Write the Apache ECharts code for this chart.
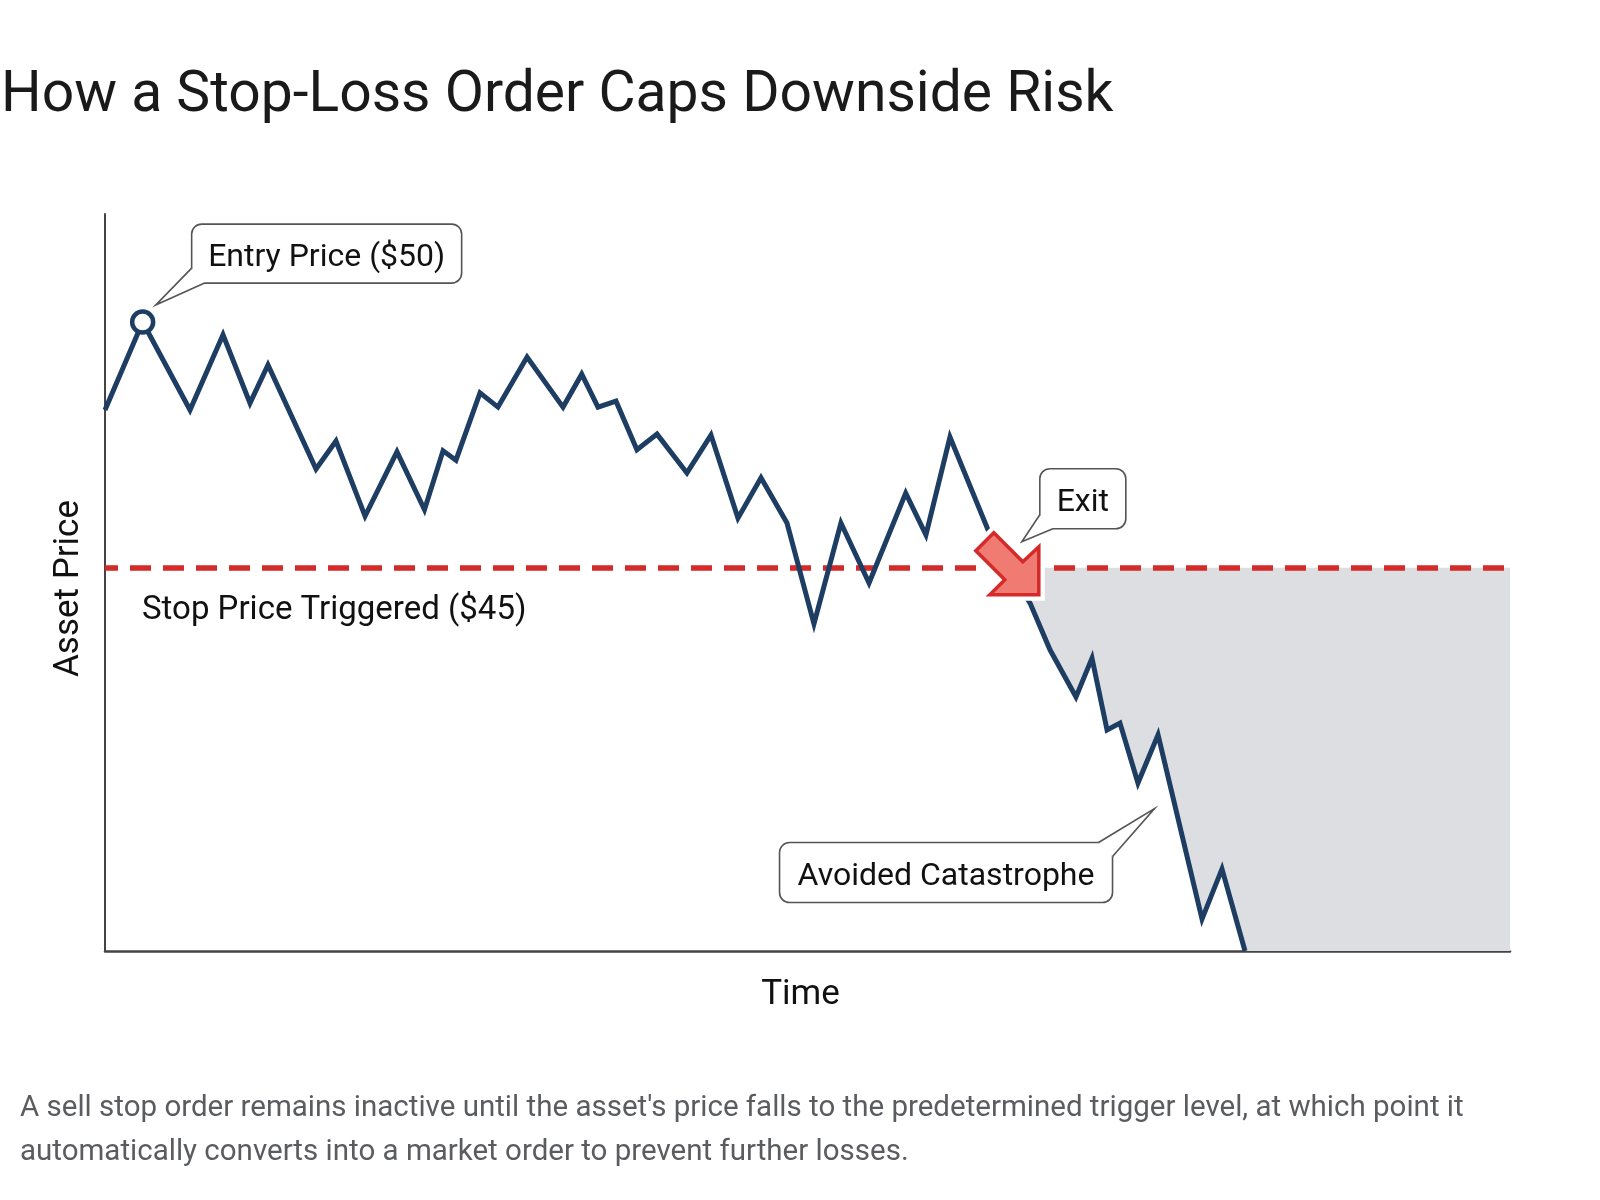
<!DOCTYPE html>
<html>
<head>
<meta charset="utf-8">
<title>How a Stop-Loss Order Caps Downside Risk</title>
<script src="https://cdn.jsdelivr.net/npm/echarts@6/dist/echarts.min.js"></script>
<style>
  html, body { margin: 0; padding: 0; background: #fff; }
  #chart { width: 1600px; height: 1200px; }
</style>
</head>
<body>
<div id="chart"></div>
<script>
// price path (time is in arbitrary units 0..100, price in $)
const timeSteps = [0, 2.68, 6.05, 8.40, 10.32, 11.60, 15.02, 16.44, 18.51, 20.78, 22.74, 24.06, 24.98, 26.69, 27.97, 30.04,
  32.60, 33.93, 35.09, 36.37, 37.86, 39.29, 41.42, 43.13, 45.05, 46.69, 48.54, 50.46, 52.38, 54.38, 56.99, 58.43, 60.14,
  62.85, 65.84, 67.26, 69.11, 70.25, 71.32, 72.24, 73.52, 74.95, 78.08, 79.50, 81.14];
const prices = [48.21, 50.0, 48.21, 49.74, 48.35, 49.13, 47.01, 47.58, 46.05, 47.36, 46.18, 47.38, 47.19, 48.56, 48.27, 49.29,
  48.27, 48.94, 48.27, 48.39, 47.40, 47.72, 46.93, 47.70, 46.01, 46.83, 45.91, 43.86, 45.91, 44.69, 46.52, 45.67, 47.66,
  45.77, 44.28, 43.33, 42.37, 43.16, 41.70, 41.84, 40.62, 41.60, 37.85, 38.87, 37.2];

const entryPoint = [2.68, 50];
const stopPrice = 45;
const exitPoint = [64.4, 45];
const avoidedPoint = [74.7, 40.1];
const timeRange = [0, 100];
const priceRange = [37.2, 52.2];

const calloutLabels = ['Entry Price ($50)', 'Exit', 'Avoided Catastrophe'];
const stopLabel = 'Stop Price Triggered ($45)';
const titleText = 'How a Stop-Loss Order Caps Downside Risk';
const captionText = "A sell stop order remains inactive until the asset's price falls to the predetermined trigger level, at which point it\nautomatically converts into a market order to prevent further losses.";

const NAVY = '#1e3d63';
const RED = '#d42a2a';
const FONT = 'Roboto, "Noto Sans", sans-serif';

let pricePath = timeSteps.map((t, i) => [t, prices[i]]);

// bubble shapes, offsets in px from the pointer tip
const bubbleLayout = [
  { tip: [13, -17], box: [36, -81, 270, 59], base: [[36, -37], [49, -22]] },
  { tip: [12, -26], box: [18, -73, 86, 60], base: [[18, -27], [31, -13]] },
  { tip: [0, 0], box: [-375, 34, 333, 60], base: [[-56, 34], [-42, 48]] }
];

let chart = echarts.init(document.getElementById('chart'));

let option = {
  backgroundColor: '#fff',
  animation: false,
  grid: { left: 105, right: 90, top: 214, bottom: 249, outerBoundsMode: 'none' },
  xAxis: {
    type: 'value',
    min: timeRange[0],
    max: timeRange[1],
    name: 'Time',
    nameLocation: 'middle',
    nameGap: 27,
    nameTextStyle: { fontSize: 35, color: '#111', fontFamily: FONT, padding: [0, 14, 0, 0] },
    axisLine: { show: true, onZero: false, lineStyle: { color: '#444', width: 2.5 } },
    axisTick: { show: false },
    axisLabel: { show: false },
    splitLine: { show: false }
  },
  yAxis: {
    type: 'value',
    min: priceRange[0],
    max: priceRange[1],
    name: 'Asset Price',
    nameLocation: 'middle',
    nameRotate: 90,
    nameGap: 18,
    nameTextStyle: { fontSize: 35, color: '#111', fontFamily: FONT, padding: [0, 12, 0, 0] },
    axisLine: { show: true, onZero: false, lineStyle: { color: '#444', width: 2 } },
    axisTick: { show: false },
    axisLabel: { show: false },
    splitLine: { show: false }
  },
  graphic: [
    {
      type: 'text', z: 100,
      style: { text: titleText, x: 1, y: 97, verticalAlign: 'middle', align: 'left',
        font: '57px ' + FONT, fill: '#1a1a1a' }
    },
    {
      type: 'text', z: 100,
      style: { text: captionText, x: 20, y: 1087, verticalAlign: 'top', align: 'left',
        font: '29.5px ' + FONT, lineHeight: 44, fill: '#5a5c60' }
    }
  ],
  series: [
    {
      // grey region: losses avoided below the stop
      type: 'custom',
      name: 'avoided',
      silent: true,
      z: 1,
      data: [exitPoint],
      renderItem: function (params, api) {
        let after = pricePath.filter(p => p[0] > exitPoint[0]);
        let pts = [exitPoint].concat(after, [[timeRange[1], priceRange[0]], [timeRange[1], stopPrice]]);
        return {
          type: 'polygon',
          shape: { points: pts.map(p => api.coord(p)) },
          style: { fill: '#dddee1' }
        };
      }
    },
    {
      type: 'line',
      name: 'price',
      data: pricePath,
      showSymbol: false,
      silent: true,
      z: 3,
      lineStyle: { color: NAVY, width: 5, join: 'miter', miterLimit: 10 },
      markLine: {
        silent: true,
        symbol: ['none', 'none'],
        z: 2,
        label: { show: false },
        lineStyle: { color: RED, width: 5.5, type: [21, 12], dashOffset: 8 },
        data: [{ yAxis: stopPrice }]
      }
    },
    {
      type: 'scatter',
      name: 'entry',
      data: [entryPoint],
      symbol: 'circle',
      symbolSize: 21,
      silent: true,
      z: 4,
      itemStyle: { color: '#fff', borderColor: NAVY, borderWidth: 4.5, opacity: 1 }
    },
    {
      // exit arrow
      type: 'custom',
      name: 'exit',
      silent: true,
      z: 5,
      clip: false,
      data: [exitPoint],
      renderItem: function (params, api) {
        let a = api.coord([api.value(0), api.value(1)]);
        let tx = a[0] + 29, ty = a[1] + 27;
        let rel = [[0, 0], [0, -48], [-16, -33], [-45, -62], [-63, -44], [-34, -15], [-49, 0]];
        let pts = rel.map(r => [tx + r[0], ty + r[1]]);
        return {
          type: 'group',
          children: [
            { type: 'polygon', shape: { points: pts }, style: { fill: '#fff', stroke: '#fff', lineWidth: 12, lineJoin: 'miter' } },
            { type: 'polygon', shape: { points: pts }, style: { fill: '#ef7b72', stroke: RED, lineWidth: 3.5, lineJoin: 'miter' } }
          ]
        };
      }
    },
    {
      // callout bubbles
      type: 'custom',
      name: 'callouts',
      silent: true,
      z: 6,
      clip: false,
      data: [entryPoint, exitPoint, avoidedPoint],
      renderItem: function (params, api) {
        let i = params.dataIndex;
        let lay = bubbleLayout[i];
        let a = api.coord([api.value(0), api.value(1)]);
        let tip = [a[0] + lay.tip[0], a[1] + lay.tip[1]];
        let b = lay.box;
        let p1 = [tip[0] + lay.base[0][0], tip[1] + lay.base[0][1]];
        let p2 = [tip[0] + lay.base[1][0], tip[1] + lay.base[1][1]];
        let stroke = '#555';
        return {
          type: 'group',
          children: [
            { type: 'rect', shape: { x: tip[0] + b[0], y: tip[1] + b[1], width: b[2], height: b[3], r: 10 },
              style: { fill: '#fff', stroke: stroke, lineWidth: 1.6 } },
            { type: 'polygon', shape: { points: [p1, tip, p2] }, style: { fill: '#fff' } },
            { type: 'polyline', shape: { points: [p1, tip, p2] }, style: { fill: null, stroke: stroke, lineWidth: 1.6 } },
            { type: 'text', style: { text: calloutLabels[i], x: tip[0] + b[0] + b[2] / 2, y: tip[1] + b[1] + b[3] / 2 + 4,
              align: 'center', verticalAlign: 'middle', font: '32px ' + FONT, fill: '#111' } }
          ]
        };
      }
    },
    {
      // label under the stop line
      type: 'custom',
      name: 'stopLabel',
      silent: true,
      z: 6,
      clip: false,
      data: [[timeRange[0], stopPrice]],
      renderItem: function (params, api) {
        let a = api.coord([api.value(0), api.value(1)]);
        return {
          type: 'text',
          style: { text: stopLabel, x: a[0] + 37, y: a[1] + 43, align: 'left', verticalAlign: 'middle',
            font: '33px ' + FONT, fill: '#111' }
        };
      }
    }
  ]
};

chart.setOption(option);
</script>
</body>
</html>
